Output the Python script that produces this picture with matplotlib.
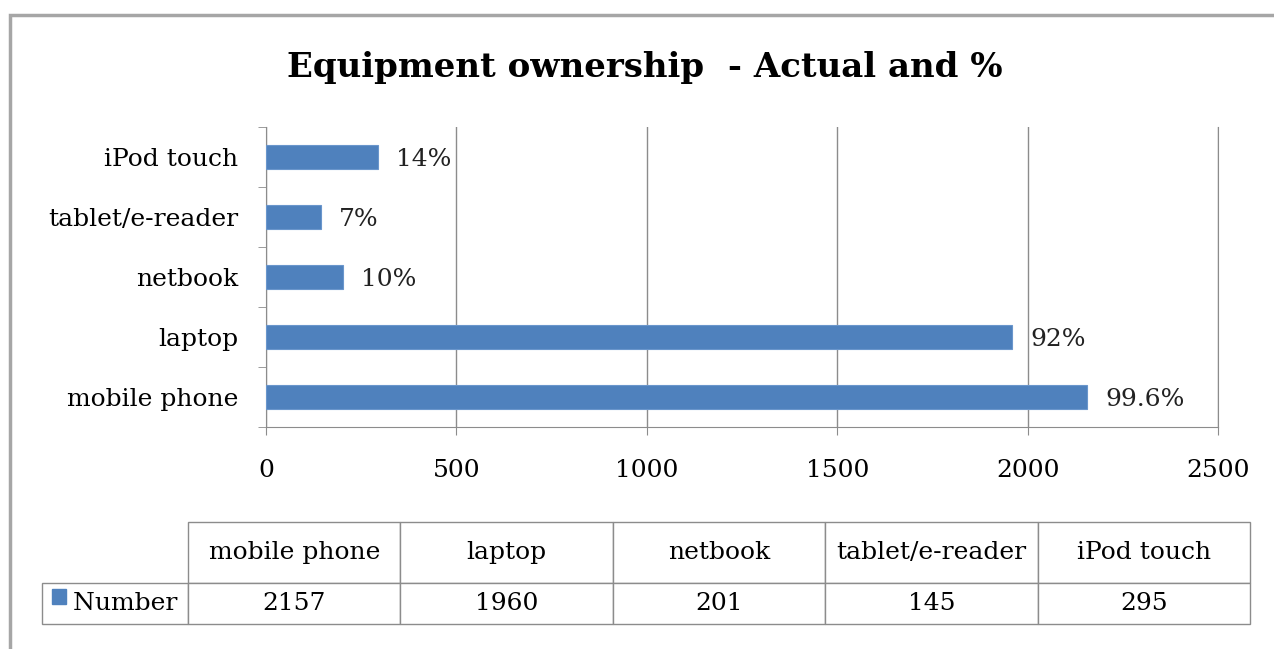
import numpy as np
import matplotlib.pyplot as plt
from matplotlib.patches import Rectangle

categories = ['mobile phone', 'laptop', 'netbook', 'tablet/e-reader', 'iPod touch']
numbers = [2157, 1960, 201, 145, 295]
percents = ['99.6%', '92%', '10%', '7%', '14%']
xticks = [0, 500, 1000, 1500, 2000, 2500]

bar_color = '#4F81BD'
line_gray = '#8C8C8C'
plt.rcParams['font.family'] = ['DejaVu Serif']

fig = plt.figure(figsize=(12.74, 6.49), dpi=100)

# outer chart frame
fig.patches.append(Rectangle((10 / 1274, -0.05), 1.2, 1 - 15 / 649 + 0.05,
                             transform=fig.transFigure, fill=False,
                             edgecolor='#A6A6A6', lw=2.5))

ax = fig.add_axes([266 / 1274, 1 - 427 / 649, 952 / 1274, 300 / 649])
y = np.arange(len(categories))
ax.barh(y, numbers, height=0.4, color=bar_color, edgecolor='#6A96CC', lw=0.8, zorder=3)

for yi, n, p in zip(y, numbers, percents):
    ax.annotate(p, (n, yi), xytext=(13, -2), textcoords='offset points',
                va='center', ha='left', fontsize=18, color='#222222')

ax.set_xlim(0, 2500)
ax.set_ylim(-0.5, len(categories) - 0.5)
ax.set_xticks(xticks)
ax.set_xticklabels([str(v) for v in xticks], fontsize=18)
ax.set_yticks(y)
ax.set_yticklabels(categories, fontsize=18)
ax.set_yticks(np.arange(-0.5, len(categories)), minor=True)
ax.tick_params(axis='y', which='major', length=0, pad=20)
ax.tick_params(axis='y', which='minor', length=6, color=line_gray, direction='out')
ax.tick_params(axis='x', which='major', length=6, color=line_gray, pad=17, direction='out')
ax.grid(axis='x', color=line_gray, lw=1, zorder=0)
ax.spines['top'].set_visible(False)
for s in ['left', 'bottom', 'right']:
    ax.spines[s].set_color(line_gray)

fig.text(0.506, 1 - 68 / 649, 'Equipment ownership  - Actual and %', ha='center', va='center',
         fontsize=24.5, fontweight='bold')

# data table
tab_ax = fig.add_axes([42 / 1274, 1 - 624 / 649, 1208 / 1274, 102 / 649])
tab_ax.axis('off')
cell_text = [[''] + categories, ['  Number'] + [str(v) for v in numbers]]
widths = [146] + [212.4] * 5
tbl = tab_ax.table(cellText=cell_text, colWidths=[w / sum(widths) for w in widths],
                   cellLoc='center', bbox=[0, 0, 1, 1])
tbl.auto_set_font_size(False)
tbl.set_fontsize(18)
for (r, c), cell in tbl.get_celld().items():
    cell.set_edgecolor(line_gray)
    cell.set_linewidth(1)
    cell.set_height(0.6 if r == 0 else 0.4)
    if c == 0 and r == 1:
        cell.get_text().set_ha('left')
        cell._loc = 'left'
tbl[0, 0].visible_edges = ''
tab_ax.add_patch(Rectangle((10 / 1208, 20 / 102), 14 / 1208, 15 / 102,
                           transform=tab_ax.transAxes, color=bar_color, clip_on=False, zorder=5))

fig.savefig('out.png', dpi=100)
